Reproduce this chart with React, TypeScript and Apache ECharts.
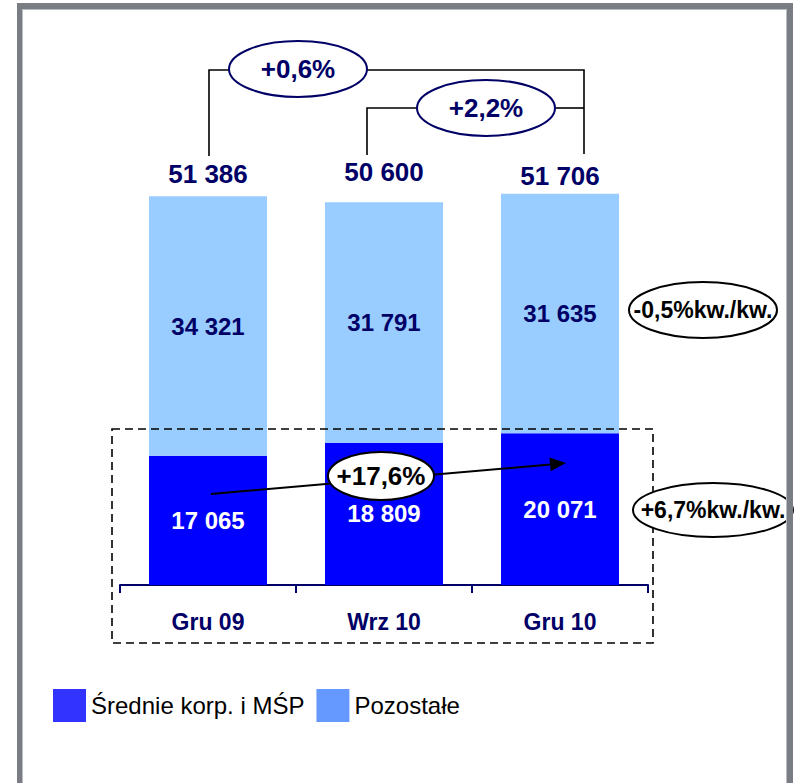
import React, { useEffect, useRef } from "react";
import * as echarts from "echarts";

// Portfolio split by quarter (mln)
const categories = ["Gru 09", "Wrz 10", "Gru 10"];
const sredniePlusMsp = [17065, 18809, 20071];
const pozostale = [34321, 31791, 31635];
const totals = categories.map((_, i) => sredniePlusMsp[i] + pozostale[i]);
// vertical nudge of each total label so they sit on a near-common line
const totalLabelNudge = [1, -7, 5];

const seriesNames = ["Średnie korp. i MŚP", "Pozostałe"];
const changeTotalYear = "+0,6%";
const changeTotalQuarter = "+2,2%";
const changeSmeYear = "+17,6%";
const changeOtherQoQ = "-0,5%kw./kw.";
const changeSmeQoQ = "+6,7%kw./kw.";

const FONT = "'Liberation Sans', Arial, Helvetica, sans-serif";
const NAVY = "#000066";

const fmt = (v: number) => String(v).replace(/\B(?=(\d{3})+(?!\d))/g, " ");

function arrowHead(x1: number, y1: number, x2: number, y2: number, len: number, half: number) {
  const dx = x2 - x1;
  const dy = y2 - y1;
  const d = Math.hypot(dx, dy);
  const ux = dx / d;
  const uy = dy / d;
  const bx = x2 - ux * len;
  const by = y2 - uy * len;
  return [
    [x2, y2],
    [bx - uy * half, by + ux * half],
    [bx + uy * half, by - ux * half],
  ];
}

export default function App() {
  const ref = useRef<HTMLDivElement>(null);

  useEffect(() => {
    if (!ref.current) return;
    const chart = echarts.init(ref.current, null, { renderer: "svg" });

    const ellipseText = (
      cx: number,
      cy: number,
      rx: number,
      ry: number,
      text: string,
      color: string,
      size: number,
      z: number
    ) => [
      {
        type: "ellipse",
        z,
        shape: { cx, cy, rx, ry },
        style: { fill: "#fff", stroke: color, lineWidth: 2 },
      },
      {
        type: "text",
        z: z + 1,
        x: cx,
        y: cy,
        style: {
          text,
          fill: color,
          font: `bold ${size}px ${FONT}`,
          textAlign: "center",
          textVerticalAlign: "middle",
        },
      },
    ];

    const bracketStyle = { stroke: "#000", lineWidth: 1.6, fill: null };
    const arrowFrom = [211, 494];
    const arrowTo = [566, 463];
    const frameColor = "#7a7e84";
    const frameEdge = "#b8bcc0";

    chart.setOption({
      animation: false,
      backgroundColor: "#fff",
      textStyle: { fontFamily: FONT },
      grid: { left: 120, right: 148, top: 131, bottom: 198 },
      legend: {
        left: 53,
        top: 689,
        padding: 0,
        icon: "rect",
        itemWidth: 33,
        itemHeight: 33,
        itemGap: 12,
        selectedMode: false,
        textStyle: { fontSize: 24, color: "#000", fontFamily: FONT },
        data: [
          { name: seriesNames[0], itemStyle: { color: "#3333ff" } },
          { name: seriesNames[1], itemStyle: { color: "#6699ff" } },
        ],
      },
      xAxis: {
        type: "category",
        data: categories,
        axisLine: { lineStyle: { color: NAVY, width: 2 } },
        axisTick: { show: true, length: 8, lineStyle: { color: NAVY, width: 2 } },
        axisLabel: {
          margin: 25,
          color: NAVY,
          fontSize: 23,
          fontWeight: "bold",
          fontFamily: FONT,
        },
      },
      yAxis: { type: "value", min: 0, max: 60000, show: false },
      series: [
        {
          name: seriesNames[0],
          type: "bar",
          stack: "total",
          barWidth: 118,
          data: sredniePlusMsp,
          itemStyle: { color: "#0000ff" },
          label: {
            show: true,
            position: "inside",
            color: "#fff",
            fontSize: 24,
            fontWeight: "bold",
            fontFamily: FONT,
            formatter: (p: any) => fmt(p.value),
          },
        },
        {
          name: seriesNames[1],
          type: "bar",
          stack: "total",
          barWidth: 118,
          data: pozostale,
          itemStyle: { color: "#99ccff" },
          label: {
            show: true,
            position: "inside",
            color: NAVY,
            fontSize: 24,
            fontWeight: "bold",
            fontFamily: FONT,
            formatter: (p: any) => fmt(p.value),
          },
        },
        {
          name: "Razem",
          type: "scatter",
          data: totals.map((v, i) => ({
            value: v,
            label: { offset: [0, totalLabelNudge[i]] },
          })),
          symbolSize: 0,
          silent: true,
          itemStyle: { opacity: 1 },
          label: {
            show: true,
            position: "top",
            distance: 10,
            color: NAVY,
            fontSize: 26,
            fontWeight: "bold",
            fontFamily: FONT,
            formatter: (p: any) => fmt(p.value),
          },
        },
      ],
      graphic: [
        // brackets comparing totals
        { type: "polyline", z: 10, shape: { points: [[209, 156], [209, 70], [229, 70]] }, style: bracketStyle },
        { type: "polyline", z: 10, shape: { points: [[367, 70], [584, 70], [584, 154]] }, style: bracketStyle },
        { type: "polyline", z: 10, shape: { points: [[367, 155], [367, 108], [417, 108]] }, style: bracketStyle },
        { type: "polyline", z: 10, shape: { points: [[556, 108], [584, 108]] }, style: bracketStyle },
        ...ellipseText(298, 69, 69, 28, changeTotalYear, NAVY, 26, 11),
        ...ellipseText(486, 108, 69, 28, changeTotalQuarter, NAVY, 26, 11),
        // dashed box around the SME segment
        {
          type: "rect",
          z: 10,
          shape: { x: 112, y: 429, width: 541, height: 214 },
          style: { fill: null, stroke: "#000", lineWidth: 1.6, lineDash: [8, 5] },
        },
        // growth arrow
        {
          type: "line",
          z: 12,
          shape: { x1: arrowFrom[0], y1: arrowFrom[1], x2: arrowTo[0] - 10, y2: arrowTo[1] + 1 },
          style: { stroke: "#000", lineWidth: 2 },
        },
        {
          type: "polygon",
          z: 12,
          shape: { points: arrowHead(arrowFrom[0], arrowFrom[1], arrowTo[0], arrowTo[1], 16, 7) },
          style: { fill: "#000" },
        },
        ...ellipseText(381, 476, 53, 24, changeSmeYear, "#000", 26, 13),
        ...ellipseText(703, 310, 74, 28, changeOtherQoQ, "#000", 23, 13),
        ...ellipseText(713, 510, 80, 27, changeSmeQoQ, "#000", 23, 13),
        // frame
        { type: "rect", z: 20, shape: { x: 17, y: 3, width: 5, height: 780 }, style: { fill: frameColor } },
        { type: "rect", z: 20, shape: { x: 787, y: 3, width: 6, height: 780 }, style: { fill: frameColor } },
        { type: "rect", z: 20, shape: { x: 17, y: 3, width: 776, height: 6 }, style: { fill: frameColor } },
        { type: "rect", z: 20, shape: { x: 22, y: 9, width: 1, height: 774 }, style: { fill: frameEdge } },
        { type: "rect", z: 20, shape: { x: 22, y: 9, width: 765, height: 1 }, style: { fill: frameEdge } },
        { type: "rect", z: 20, shape: { x: 786, y: 9, width: 1, height: 774 }, style: { fill: frameEdge } },
      ],
    });

    return () => chart.dispose();
  }, []);

  return (
    <div
      ref={ref}
      style={{ position: "absolute", left: 0, top: 0, width: 796, height: 783 }}
    />
  );
}
